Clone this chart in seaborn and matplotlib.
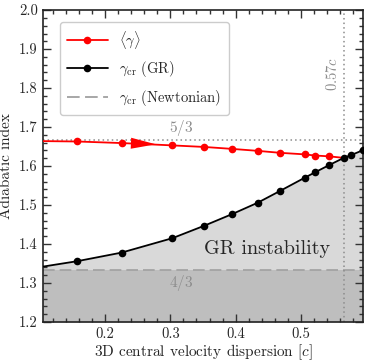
import matplotlib
matplotlib.use("Agg")
import matplotlib.pyplot as plt
from matplotlib.lines import Line2D
import seaborn as sns
import pandas as pd

# velocity dispersion [c]
sigma = [0.104, 0.157, 0.225, 0.303, 0.352, 0.395, 0.434, 0.468, 0.506, 0.522, 0.543, 0.566, 0.577, 0.596]
# critical adiabatic index (GR)
gamma_cr = [1.342, 1.356, 1.378, 1.415, 1.447, 1.477, 1.506, 1.536, 1.570, 1.584, 1.602, 1.621, 1.628, 1.641]
# mean adiabatic index of the cluster (ends at the crossing)
gamma_mean = [1.664, 1.663, 1.659, 1.653, 1.649, 1.644, 1.639, 1.634, 1.630, 1.627, 1.625, 1.621]
sigma_crit = 0.566
gamma_newt = 4 / 3
gamma_mono = 5 / 3

df_cr = pd.DataFrame({"sigma": sigma, "gamma": gamma_cr})
df_mean = pd.DataFrame({"sigma": sigma[:len(gamma_mean)], "gamma": gamma_mean})

sns.set_style("ticks")
plt.rcParams["font.family"] = "serif"
plt.rcParams["font.serif"] = ["cmr10"]
plt.rcParams["mathtext.fontset"] = "cm"
plt.rcParams["axes.formatter.use_mathtext"] = True
plt.rcParams["axes.unicode_minus"] = False

fig = plt.figure(figsize=(3.73, 3.61), dpi=100)
ax = fig.add_axes([0.1145, 0.108, 0.8595, 0.864])

ymin, ymax = 1.2, 2.0
# shaded regions
ax.fill_between(df_cr["sigma"], ymin, df_cr["gamma"], color="#d9d9d9", lw=0, zorder=0)
ax.axhspan(ymin, gamma_newt, color="#bebebe", lw=0, zorder=0.5)

# reference lines
ax.axhline(gamma_newt, color="#a0a0a0", ls=(0, (7, 3)), lw=1.2, zorder=1)
ax.axhline(gamma_mono, color="#8c8c8c", ls=(0, (1, 2)), lw=1.1, zorder=1)
ax.axvline(sigma_crit, color="#8c8c8c", ls=(0, (1, 2)), lw=1.1, zorder=1)

sns.lineplot(data=df_mean, x="sigma", y="gamma", ax=ax, color="red", lw=1.3,
             marker="o", markersize=5.5, markeredgewidth=0,
             markevery=list(range(1, len(gamma_mean) - 1)), zorder=3)
sns.lineplot(data=df_cr, x="sigma", y="gamma", ax=ax, color="black", lw=1.3,
             marker="o", markersize=5.5, markeredgewidth=0,
             markevery=list(range(1, len(gamma_cr))), zorder=4)

# direction arrow on the mean curve
ax.annotate("", xy=(0.282, 1.6555), xytext=(0.240, 1.6585),
            arrowprops=dict(arrowstyle="-|>,head_length=1.0,head_width=0.22",
                            color="red", lw=0, mutation_scale=18), zorder=5)

ax.text(0.316, 1.672, r"$5/3$", color="#8c8c8c", fontsize=11, ha="center", va="bottom")
ax.text(0.316, 1.326, r"$4/3$", color="#8c8c8c", fontsize=11, ha="center", va="top")
ax.text(0.549, 1.836, r"$0.57c$", color="#8c8c8c", fontsize=10.5, ha="center", va="center",
        rotation=90)
ax.text(0.449, 1.387, "GR instability", fontsize=14.5, ha="center", va="center")

ax.set_xlim(0.104, 0.596)
ax.set_ylim(ymin, ymax)
ax.set_xticks([0.2, 0.3, 0.4, 0.5])
ax.set_xticks([0.12 + 0.02 * i for i in range(24)], minor=True)
ax.set_yticks([1.2 + 0.1 * i for i in range(9)])
ax.set_yticks([1.2 + 0.02 * i for i in range(41)], minor=True)
ax.set_xticklabels(["0.2", "0.3", "0.4", "0.5"])
ax.set_yticklabels([f"{1.2 + 0.1 * i:.1f}" for i in range(9)])
ax.tick_params(which="both", direction="in", top=True, right=True, labelsize=10.5,
               color="#333333", width=1.0)
ax.tick_params(which="major", length=6)
ax.tick_params(which="minor", length=3)
for s in ax.spines.values():
    s.set_linewidth(1.2)
    s.set_color("#222222")

ax.set_xlabel(r"3D central velocity dispersion [$c$]", fontsize=11, labelpad=1)
ax.set_ylabel("Adiabatic index", fontsize=11, labelpad=4)

handles = [
    Line2D([], [], color="red", lw=1.3, marker="o", markersize=5.5, markeredgewidth=0),
    Line2D([], [], color="black", lw=1.3, marker="o", markersize=5.5, markeredgewidth=0),
    Line2D([], [], color="#a0a0a0", lw=1.3, ls=(0, (7, 3))),
]
labels = [r"$\langle\gamma\rangle$", r"$\gamma_{\rm cr}$ (GR)", r"$\gamma_{\rm cr}$ (Newtonian)"]
ax.legend(handles, labels, loc="upper left", bbox_to_anchor=(0.03, 0.985), fontsize=10.5,
          frameon=True, fancybox=True, framealpha=1, edgecolor="#cccccc",
          handlelength=2.8, borderpad=0.5, labelspacing=0.6)

fig.savefig("out.png", dpi=100)
